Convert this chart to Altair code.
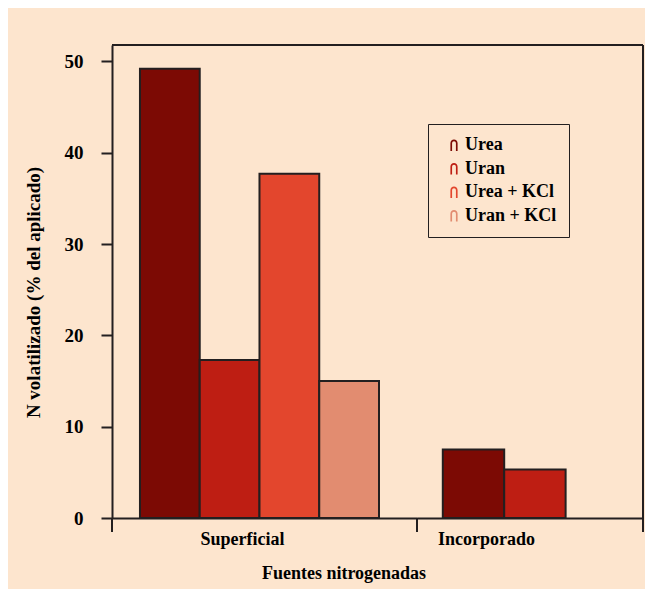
import altair as alt
import pandas as pd

# ---- data ----
groups = ["Superficial", "Superficial", "Superficial", "Superficial", "Incorporado", "Incorporado"]
sources = ["Urea", "Uran", "Urea + KCl", "Uran + KCl", "Urea", "Uran"]
values = [49.2, 17.3, 37.7, 15.0, 7.5, 5.3]
series_order = ["Urea", "Uran", "Urea + KCl", "Uran + KCl"]
y_ticks = [0, 10, 20, 30, 40, 50]

# ---- styles ----
colors = ["#7C0A04", "#BE1E13", "#E3462D", "#E28C70"]
BG = "#FDE5CE"
INK = "#231F20"
FONT = "Liberation Serif"
H = 473
Y_MAX = 51.8
ARCH = "M-0.6,1L-0.6,-0.3A0.6,0.6 0 0 1 0.6,-0.3L0.6,1L0.32,1L0.32,-0.3A0.32,0.32 0 0 0 -0.32,-0.3L-0.32,1Z"

df = pd.DataFrame({"grupo": groups, "fuente": sources, "valor": values})
one = alt.Data(values=[{}])

legend = alt.Legend(
    title=None, orient="none", legendX=316, legendY=79,
    labelFont=FONT, labelFontSize=18, labelFontWeight="bold", labelColor="black",
    symbolType=ARCH, symbolSize=144, symbolStrokeWidth=0, symbolOffset=5,
    rowPadding=5.5, padding=12, labelOffset=2,
    strokeColor=INK, fillColor=BG,
)


def panel(group, width, domain, pad_outer, align, title_x, show_y, right_edge):
    x_axis = alt.Axis(
        labels=False, ticks=False, domain=True, domainColor=INK, domainWidth=2,
        title=group, titleFont=FONT, titleFontSize=18, titleFontWeight="bold",
        titleColor="black", titleX=title_x, titlePadding=12,
    )
    if show_y:
        y_axis = alt.Axis(
            values=y_ticks, grid=False, domain=True, domainColor=INK, domainWidth=2,
            ticks=True, tickColor=INK, tickWidth=2, tickSize=11,
            labelFont=FONT, labelFontSize=19, labelFontWeight="bold", labelColor="black",
            labelPadding=18,
            title="N volatilizado (% del aplicado)", titleFont=FONT, titleFontSize=19,
            titleFontWeight="bold", titleColor="black", titlePadding=21, titleY=247,
        )
    else:
        y_axis = None
    bars = alt.Chart(df).transform_filter(alt.datum.grupo == group).mark_bar(
        stroke=INK, strokeWidth=2
    ).encode(
        x=alt.X("fuente:N", sort=domain,
                scale=alt.Scale(domain=domain, paddingInner=0, paddingOuter=pad_outer, align=align),
                axis=x_axis),
        y=alt.Y("valor:Q", scale=alt.Scale(domain=[0, Y_MAX], nice=False, zero=True), axis=y_axis),
        color=alt.Color("fuente:N", scale=alt.Scale(domain=series_order, range=colors), legend=legend),
    )
    top = alt.Chart(one).mark_rule(color=INK, strokeWidth=2).encode(
        x=alt.value(0), x2=alt.value(width), y=alt.value(0))
    tick = alt.Chart(one).mark_rule(color=INK, strokeWidth=2).encode(
        x=alt.value(0), y=alt.value(H), y2=alt.value(H + 14))
    layers = [bars, top, tick]
    if right_edge:
        layers.append(alt.Chart(one).mark_rule(color=INK, strokeWidth=2).encode(
            x=alt.value(width), y=alt.value(0), y2=alt.value(H + 14)))
    return alt.layer(*layers).properties(width=width, height=H)


p1 = panel("Superficial", 305, series_order, 0.552, 0.424, 130, True, False)
p2 = panel("Incorporado", 226, ["Urea", "Uran"], 0.84, 0.25, 69, False, True)

chart = alt.hconcat(p1, p2, spacing=0, bounds="flush").resolve_scale(
    x="independent", color="shared", y="shared"
).properties(
    title=alt.TitleParams(
        "Fuentes nitrogenadas", orient="bottom", anchor="middle",
        font=FONT, fontSize=18, fontWeight="bold", color="black", offset=16, dx=10,
    ),
    background=BG,
    padding={"left": 15, "top": 35, "right": 0, "bottom": 6},
).configure_view(stroke="transparent")

chart.save("out.html", embed_options={"renderer": "svg", "actions": False})
